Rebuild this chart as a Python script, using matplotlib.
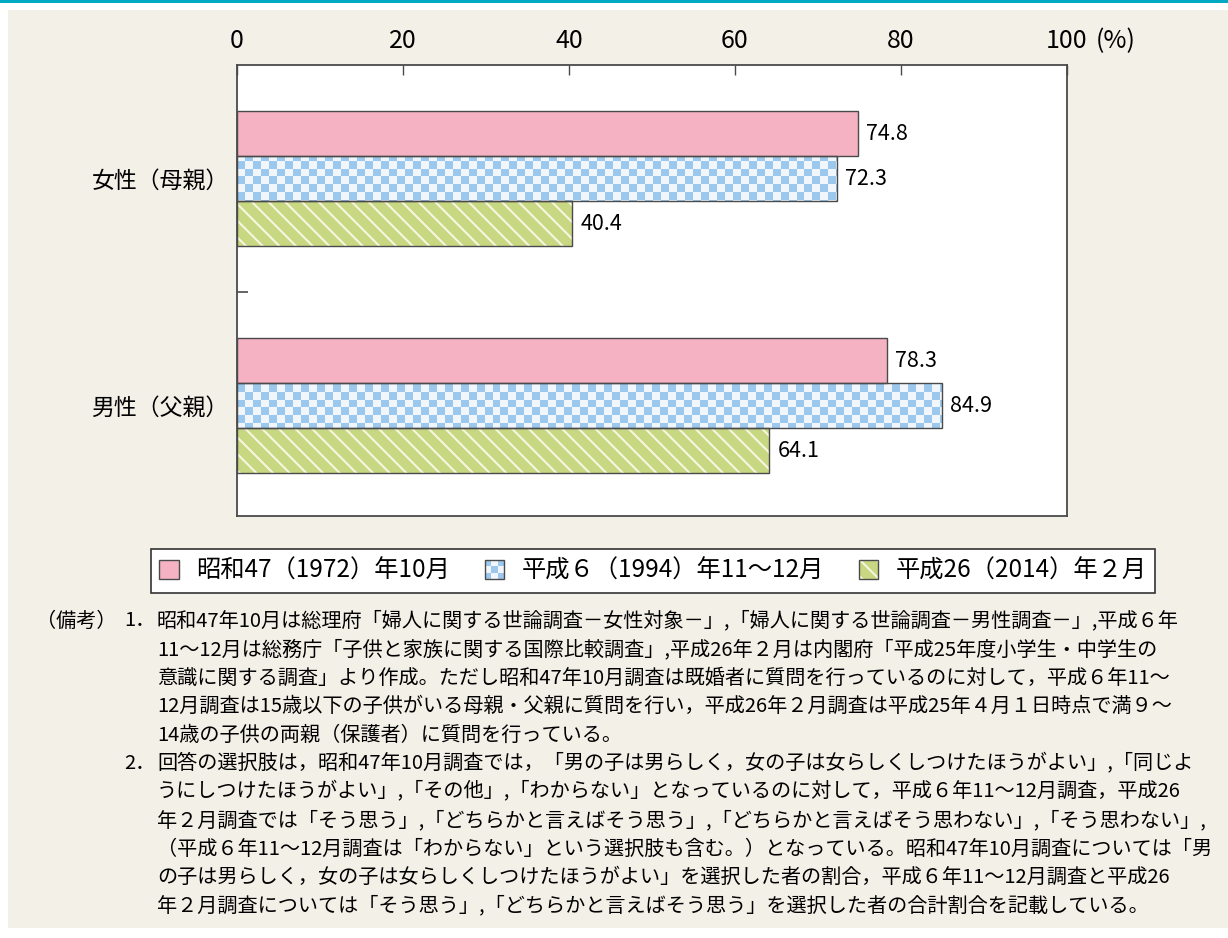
import matplotlib
matplotlib.use("Agg")
import matplotlib.pyplot as plt
import numpy as np
from matplotlib.patches import Rectangle, Patch
from matplotlib.colors import ListedColormap
from matplotlib.legend_handler import HandlerBase

plt.rcParams['font.family'] = ['Noto Sans CJK JP', 'DejaVu Sans']
plt.rcParams['hatch.linewidth'] = 1.5

# data
groups = ['女性（母親）', '男性（父親）']
surveys = ['昭和47（1972）年10月', '平成６（1994）年11～12月', '平成26（2014）年２月']
showa47 = [74.8, 78.3]
heisei6 = [72.3, 84.9]
heisei26 = [40.4, 64.1]
xticks = [0, 20, 40, 60, 80, 100]

notes = [
    ('（備考）', '1．', '昭和47年10月は総理府「婦人に関する世論調査－女性対象－」，「婦人に関する世論調査－男性調査－」，平成６年'),
    ('', '', '11～12月は総務庁「子供と家族に関する国際比較調査」，平成26年２月は内閣府「平成25年度小学生・中学生の'),
    ('', '', '意識に関する調査」より作成。ただし昭和47年10月調査は既婚者に質問を行っているのに対して，平成６年11～'),
    ('', '', '12月調査は15歳以下の子供がいる母親・父親に質問を行い，平成26年２月調査は平成25年４月１日時点で満９～'),
    ('', '', '14歳の子供の両親（保護者）に質問を行っている。'),
    ('', '2．', '回答の選択肢は，昭和47年10月調査では，「男の子は男らしく，女の子は女らしくしつけたほうがよい」，「同じよ'),
    ('', '', 'うにしつけたほうがよい」，「その他」，「わからない」となっているのに対して，平成６年11～12月調査，平成26'),
    ('', '', '年２月調査では「そう思う」，「どちらかと言えばそう思う」，「どちらかと言えばそう思わない」，「そう思わない」，'),
    ('', '', '（平成６年11～12月調査は「わからない」という選択肢も含む。）となっている。昭和47年10月調査については「男'),
    ('', '', 'の子は男らしく，女の子は女らしくしつけたほうがよい」を選択した者の割合，平成６年11～12月調査と平成26'),
    ('', '', '年２月調査については「そう思う」，「どちらかと言えばそう思う」を選択した者の合計割合を記載している。'),
]

pink = '#f4b2c2'
blue = '#9bc8ec'
blue_light = '#f0f6fc'
green = '#c8d782'
cream = '#f7f6e0'
edge = '#4a4a4a'
beige = '#f3f0e8'
teal = '#00a9c2'

W, H = 1228, 938
fig = plt.figure(figsize=(W / 100, H / 100), dpi=100)
fig.patch.set_facecolor('white')
fig.add_artist(Rectangle((8 / W, 10 / H), 1 - 8 / W, (928 - 10) / H, transform=fig.transFigure,
                         facecolor=beige, edgecolor='none', zorder=-10))
fig.add_artist(Rectangle((0, 1 - 3 / H), 1, 3 / H, transform=fig.transFigure,
                         facecolor=teal, edgecolor='none', zorder=-9))

ax = fig.add_axes([237 / W, 1 - 516 / H, (1067 - 237) / W, (516 - 65) / H])
ax.set_facecolor('white')

y = np.arange(len(groups))
h = 0.198

# pink bars
b1 = ax.barh(y - h, showa47, height=h, color=pink, edgecolor=edge, linewidth=1, zorder=3)

# checkered bars: texture image clipped to each bar outline
b2 = ax.barh(y, heisei6, height=h, facecolor='none', edgecolor=edge, linewidth=1, zorder=3)
rows, cols = 57, 104
checker = np.indices((rows, cols)).sum(axis=0) % 2
for bar in b2:
    im = ax.imshow(checker, cmap=ListedColormap([blue, blue_light]), extent=(0, 100, 1.5, -0.5),
                   aspect='auto', interpolation='nearest', zorder=2)
    im.set_clip_path(bar)

# striped bars
ax.barh(y + h, heisei26, height=h, color=green, edgecolor=cream, hatch='\\\\', linewidth=0, zorder=2)
b3 = ax.barh(y + h, heisei26, height=h, facecolor='none', edgecolor=edge, linewidth=1, zorder=3)

for bars, vals in ((b1, showa47), (b2, heisei6), (b3, heisei26)):
    for bar, v in zip(bars, vals):
        ax.annotate(f'{v:.1f}', xy=(v, bar.get_y() + bar.get_height() / 2), xytext=(6, 0),
                    textcoords='offset points', ha='left', va='center', fontsize=15.5)

ax.set_xlim(0, 100)
ax.set_ylim(1.485, -0.5)
ax.xaxis.tick_top()
ax.set_xticks(xticks)
ax.set_xticklabels([str(t) for t in xticks])
ax.tick_params(axis='x', direction='in', length=7, width=1, color=edge, labelsize=18, pad=8)
ax.annotate('(%)', xy=(100, 1), xycoords=('data', 'axes fraction'), xytext=(21, 8),
            textcoords='offset points', ha='left', va='bottom', fontsize=18)

ax.set_yticks(y)
ax.set_yticklabels(groups, fontsize=16.5)
ax.tick_params(axis='y', which='major', length=0, pad=6)
ax.set_yticks([0.5], minor=True)
ax.tick_params(axis='y', which='minor', direction='in', length=8, width=1.2, color=edge)

for s in ax.spines.values():
    s.set_color(edge)
    s.set_linewidth(1.3)


class SwatchHandler(HandlerBase):
    def __init__(self, kind):
        super().__init__()
        self.kind = kind

    def create_artists(self, legend, orig_handle, xdescent, ydescent, width, height, fontsize, trans):
        x0, y0 = -xdescent, -ydescent
        arts = []
        if self.kind == 'checker':
            n = 3
            for i in range(n):
                for j in range(n):
                    c = blue if (i + j) % 2 == 0 else blue_light
                    arts.append(Rectangle((x0 + i * width / n, y0 + j * height / n), width / n, height / n,
                                          facecolor=c, edgecolor='none', transform=trans))
        elif self.kind == 'stripe':
            arts.append(Rectangle((x0, y0), width, height, facecolor=green, edgecolor=cream,
                                  hatch='\\\\', linewidth=0, transform=trans))
        else:
            arts.append(Rectangle((x0, y0), width, height, facecolor=pink, edgecolor='none', transform=trans))
        arts.append(Rectangle((x0, y0), width, height, facecolor='none', edgecolor=edge,
                              linewidth=1, transform=trans))
        return arts


proxies = [Patch(), Patch(), Patch()]
kinds = ['plain', 'checker', 'stripe']
leg = fig.legend(proxies, surveys, handler_map={p: SwatchHandler(k) for p, k in zip(proxies, kinds)},
                 loc='center', bbox_to_anchor=(653 / W, 1 - 571 / H), ncol=3, fontsize=17.5,
                 frameon=True, fancybox=False, framealpha=1, edgecolor='#333333',
                 handlelength=0.8, handleheight=0.8, handletextpad=0.7, columnspacing=1.45,
                 borderpad=0.35)
leg.get_frame().set_linewidth(1.2)

# notes below the chart; comma after a closing bracket is set narrow
y0, step = 621, 28.5
for i, (head, num, line) in enumerate(notes):
    yy = 1 - (y0 + i * step) / H
    line = line.replace('」，', '」,')
    if head:
        fig.text(36 / W, yy, head, ha='left', va='center', fontsize=14.5)
    if num:
        fig.text(124 / W, yy, num, ha='left', va='center', fontsize=14.5)
    fig.text(157 / W, yy, line, ha='left', va='center', fontsize=14.5)

fig.savefig('out.png', dpi=100, facecolor=fig.get_facecolor())
